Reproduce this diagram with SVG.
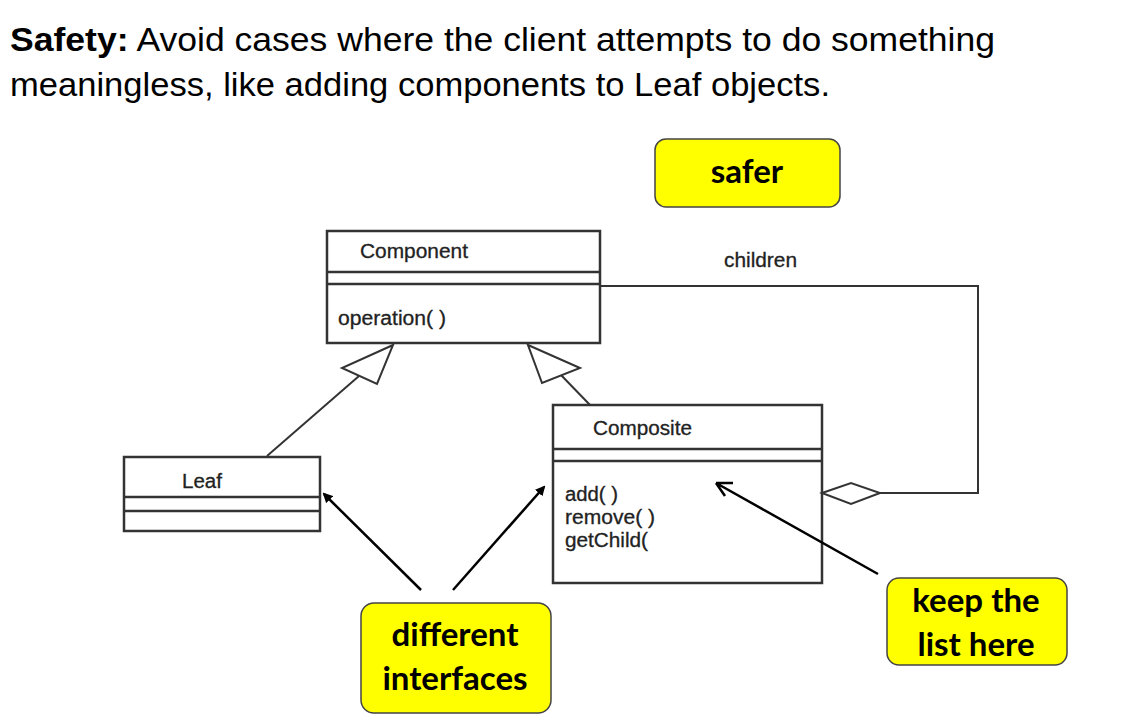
<svg xmlns="http://www.w3.org/2000/svg" width="1133" height="728" viewBox="0 0 1133 728">
<style>
.title{font-family:"Liberation Sans",Arial,sans-serif;font-size:33px;fill:#000}
.uml{font-family:"Liberation Sans",Arial,sans-serif;font-size:20px;fill:#222;stroke:#222;stroke-width:0.3}
.box{fill:#fff;stroke:#333;stroke-width:2.5}
.div{stroke:#333;stroke-width:2.5}
.conn{fill:none;stroke:#333;stroke-width:2}
.arr{fill:none;stroke:#000;stroke-width:2.5}
.note{fill:#ffff00;stroke:#444;stroke-width:1.5}
.nt{font-family:Lato,"Noto Sans",sans-serif;font-weight:bold;font-size:33px;fill:#000;text-anchor:middle}
</style>
<defs>
<marker id="ah" markerWidth="10" markerHeight="10" refX="8" refY="5" orient="auto" markerUnits="userSpaceOnUse" viewBox="0 0 10 10">
<path d="M0,0 L10,5 L0,10 Z" fill="#000"/>
</marker>
</defs>
<rect width="1133" height="728" fill="#fff"/>
<g id="title">
<text class="title" x="10" y="51" textLength="985" lengthAdjust="spacingAndGlyphs"><tspan font-weight="bold">Safety:</tspan> Avoid cases where the client attempts to do something</text>
<text class="title" x="10" y="96" textLength="820" lengthAdjust="spacingAndGlyphs">meaningless, like adding components to Leaf objects.</text>
</g>
<g id="component">
<rect class="box" x="327" y="231" width="273" height="112"/>
<line class="div" x1="327" y1="272" x2="600" y2="272"/>
<line class="div" x1="327" y1="284" x2="600" y2="284"/>
<text class="uml" x="360" y="258" textLength="108" lengthAdjust="spacingAndGlyphs">Component</text>
<text class="uml" x="338" y="325" textLength="108" lengthAdjust="spacingAndGlyphs">operation( )</text>
</g>
<g id="composite">
<rect class="box" x="553" y="405" width="269" height="178"/>
<line class="div" x1="553" y1="449" x2="822" y2="449"/>
<line class="div" x1="553" y1="461" x2="822" y2="461"/>
<text class="uml" x="593" y="435" textLength="99" lengthAdjust="spacingAndGlyphs">Composite</text>
<text class="uml" x="565" y="501" textLength="53" lengthAdjust="spacingAndGlyphs">add( )</text>
<text class="uml" x="565" y="524" textLength="90" lengthAdjust="spacingAndGlyphs">remove( )</text>
<text class="uml" x="565" y="547" textLength="83" lengthAdjust="spacingAndGlyphs">getChild(</text>
</g>
<g id="leaf">
<rect class="box" x="124" y="457" width="196" height="74"/>
<line class="div" x1="124" y1="497" x2="320" y2="497"/>
<line class="div" x1="124" y1="511" x2="320" y2="511"/>
<text class="uml" x="182" y="488" textLength="40" lengthAdjust="spacingAndGlyphs">Leaf</text>
</g>
<g id="connectors">
<path class="conn" d="M600,286 H978 V493 H880"/>
<path class="conn" d="M822,493 L851,483 L880,493 L851,504 Z" style="fill:#fff"/>
<line class="conn" x1="267" y1="456" x2="359" y2="376"/>
<path class="conn" d="M393,345 L342,368 L377,384 Z" style="fill:#fff"/>
<line class="conn" x1="590" y1="405" x2="561" y2="375"/>
<path class="conn" d="M528,345 L580,368 L542,383 Z" style="fill:#fff"/>
<line class="arr" x1="421" y1="590" x2="324" y2="494" marker-end="url(#ah)"/>
<line class="arr" x1="453" y1="590" x2="544" y2="487" marker-end="url(#ah)"/>
<path class="arr" d="M878,574 L716,483 M716,483 L733,483 M716,483 L725,496"/>
<text class="uml" x="724" y="267" textLength="73" lengthAdjust="spacingAndGlyphs">children</text>
</g>
<g id="note-safer">
<rect class="note" x="655" y="139" width="185" height="68" rx="11"/>
<text class="nt" x="747" y="183">safer</text>
</g>
<g id="note-interfaces">
<rect class="note" x="361" y="603" width="190" height="110" rx="13"/>
<text class="nt" x="455" y="646">different</text>
<text class="nt" x="455" y="690">interfaces</text>
</g>
<g id="note-list">
<rect class="note" x="887" y="578" width="180" height="87" rx="12"/>
<text class="nt" x="976" y="612">keep the</text>
<text class="nt" x="976" y="656">list here</text>
</g>
</svg>
